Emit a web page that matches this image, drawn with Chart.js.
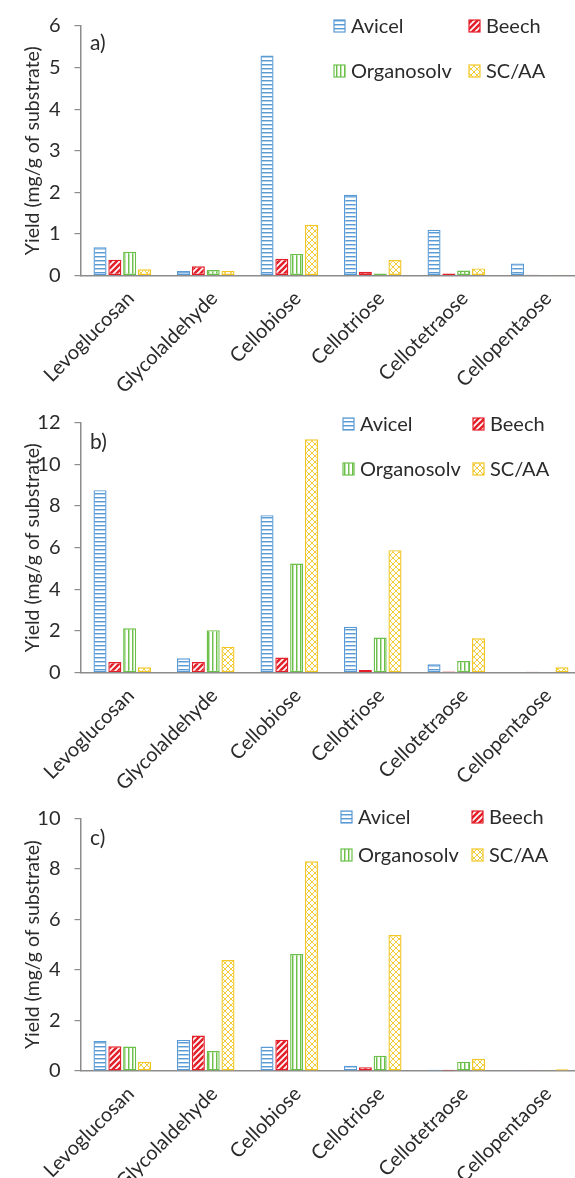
<!DOCTYPE html>
<html>
<head>
<meta charset="utf-8">
<script src="https://cdn.jsdelivr.net/npm/chart.js@4.4.0/dist/chart.umd.min.js"></script>
<style>
  html, body { margin: 0; padding: 0; background: #fff; overflow: hidden; width: 575px; height: 1178px; position: relative; }
  .panel { position: absolute; left: 0; }
</style>
</head>
<body>
<div class="panel" style="top:0px"><canvas id="chartA" width="592" height="420"></canvas></div>
<div class="panel" style="top:393px"><canvas id="chartB" width="592" height="420"></canvas></div>
<div class="panel" style="top:786px"><canvas id="chartC" width="592" height="392"></canvas></div>
<script>
const categories = ['Levoglucosan', 'Glycolaldehyde', 'Cellobiose', 'Cellotriose', 'Cellotetraose', 'Cellopentaose'];
const seriesNames = ['Avicel', 'Beech', 'Organosolv', 'SC/AA'];

// a)
const avicelA     = [0.68, 0.11, 5.29, 1.94, 1.10, 0.29];
const beechA      = [0.38, 0.22, 0.40, 0.09, 0.05, 0.02];
const organosolvA = [0.57, 0.13, 0.52, 0.05, 0.12, 0.01];
const scaaA       = [0.15, 0.11, 1.22, 0.37, 0.17, 0.02];
// b)
const avicelB     = [8.76, 0.69, 7.56, 2.20, 0.40, 0.03];
const beechB      = [0.51, 0.51, 0.73, 0.13, 0.06, 0.05];
const organosolvB = [2.13, 2.04, 5.24, 1.69, 0.56, 0.02];
const scaaB       = [0.26, 1.25, 11.2, 5.88, 1.65, 0.26];
// c)
const avicelC     = [1.19, 1.23, 0.97, 0.21, 0.05, 0.03];
const beechC      = [0.98, 1.40, 1.24, 0.15, 0.05, 0.03];
const organosolvC = [0.97, 0.79, 4.63, 0.60, 0.37, 0.03];
const scaaC       = [0.37, 4.39, 8.30, 5.38, 0.48, 0.07];

const yMaxes = [6, 12, 10];
const ySteps = [1, 2, 2];
const panelTags = ['a)', 'b)', 'c)'];
const yTitle = 'Yield (mg/g of substrate)';

const FONT = 'Lato';
const TEXT = '#2b2b2b';
const AXIS = '#8c8c8c';
const colors = ['#5b9bd5', '#e3202a', '#6cc04a', '#f2c624'];

// fill patterns for the four substrates
function makePattern(kind, color) {
    const c = document.createElement('canvas');
    const ctx = c.getContext('2d');
    if (kind === 'h') {
        c.width = 4; c.height = 4;
        ctx.fillStyle = '#fff'; ctx.fillRect(0, 0, 4, 4);
        ctx.fillStyle = color; ctx.fillRect(0, 0, 4, 1);
        ctx.globalAlpha = 0.45; ctx.fillRect(0, 1, 4, 1);
    } else if (kind === 'v') {
        c.width = 4; c.height = 4;
        ctx.fillStyle = '#fff'; ctx.fillRect(0, 0, 4, 4);
        ctx.fillStyle = color; ctx.fillRect(0, 0, 1, 4);
        ctx.globalAlpha = 0.45; ctx.fillRect(1, 0, 1, 4);
    } else if (kind === 'd') {
        c.width = 6; c.height = 6;
        ctx.fillStyle = '#fff'; ctx.fillRect(0, 0, 6, 6);
        ctx.strokeStyle = color; ctx.lineWidth = 2.6;
        ctx.beginPath();
        ctx.moveTo(-1, 7); ctx.lineTo(7, -1);
        ctx.moveTo(-1, 1); ctx.lineTo(1, -1);
        ctx.moveTo(5, 7); ctx.lineTo(7, 5);
        ctx.stroke();
    } else {
        c.width = 6; c.height = 6;
        ctx.fillStyle = '#fff'; ctx.fillRect(0, 0, 6, 6);
        ctx.strokeStyle = color; ctx.lineWidth = 0.9;
        ctx.beginPath();
        ctx.moveTo(0, 0); ctx.lineTo(6, 6);
        ctx.moveTo(6, 0); ctx.lineTo(0, 6);
        ctx.stroke();
    }
    return c.getContext('2d').createPattern(c, 'repeat');
}
const patterns = [
    makePattern('h', colors[0]),
    makePattern('d', colors[1]),
    makePattern('v', colors[2]),
    makePattern('x', colors[3])
];

function legendPlugin(lay) {
    return {
        id: 'patLegend',
        afterDraw(chart) {
            const ctx = chart.ctx;
            ctx.save();
            ctx.font = '20px ' + FONT;
            ctx.textBaseline = 'middle';
            seriesNames.forEach((name, i) => {
                const x = lay.cols[i % 2];
                const y = lay.rows[Math.floor(i / 2)];
                ctx.fillStyle = patterns[i];
                ctx.fillRect(x, y - 6, 11, 12);
                ctx.strokeStyle = colors[i];
                ctx.lineWidth = 1.2;
                ctx.strokeRect(x, y - 6, 11, 12);
                ctx.fillStyle = TEXT;
                ctx.fillText(name, x + 17, y + 1);
            });
            ctx.restore();
        }
    };
}

function tagPlugin(text, y) {
    return {
        id: 'panelTag',
        afterDraw(chart) {
            const ctx = chart.ctx;
            ctx.save();
            ctx.font = '21px ' + FONT;
            ctx.fillStyle = TEXT;
            ctx.textBaseline = 'middle';
            ctx.fillText(text, 90, y);
            ctx.restore();
        }
    };
}

function makeChart(id, series, idx, lay) {
    const canvas = document.getElementById(id);
    const H = canvas.height;
    return new Chart(canvas, {
        type: 'bar',
        data: {
            labels: categories,
            datasets: series.map((vals, i) => ({
                label: seriesNames[i],
                data: vals,
                backgroundColor: patterns[i],
                borderColor: colors[i],
                borderWidth: 1.4,
                borderSkipped: false,
                categoryPercentage: 0.71,
                barPercentage: 0.88
            }))
        },
        options: {
            responsive: false,
            animation: false,
            layout: { padding: { top: lay.top, right: 10.5, bottom: 0, left: 0 } },
            plugins: { legend: { display: false }, tooltip: { enabled: false } },
            scales: {
                x: {
                    grid: { display: true, drawOnChartArea: false, drawTicks: false },
                    border: { display: true, color: AXIS, width: 1.5 },
                    ticks: {
                        autoSkip: false, maxRotation: 45, minRotation: 45,
                        padding: 11, labelOffset: 8.5, color: TEXT, font: { family: FONT, size: 20 }
                    },
                    afterFit: s => { s.height = H - lay.bottom; }
                },
                y: {
                    min: 0, max: yMaxes[idx],
                    ticks: { stepSize: ySteps[idx], padding: 14, color: TEXT, font: { family: FONT, size: 20 } },
                    grid: { drawOnChartArea: false, drawTicks: true, tickLength: 6, color: AXIS, lineWidth: 1.2 },
                    border: { display: true, color: AXIS, width: 1.5 },
                    title: {
                        display: true, text: yTitle, color: TEXT,
                        font: { family: FONT, size: 19.5 }, padding: { top: 21, bottom: 0 }
                    },
                    afterFit: s => { s.width = 80.5; }
                }
            }
        },
        plugins: [legendPlugin(lay.legend), tagPlugin(panelTags[idx], lay.tagY)]
    });
}

makeChart('chartA', [avicelA, beechA, organosolvA, scaaA], 0,
    { top: 24, bottom: 275.5, tagY: 43, legend: { cols: [334, 469], rows: [26, 71] } });
makeChart('chartB', [avicelB, beechB, organosolvB, scaaB], 1,
    { top: 29.7, bottom: 279.7, tagY: 49, legend: { cols: [343, 473], rows: [31, 76] } });
makeChart('chartC', [avicelC, beechC, organosolvC, scaaC], 2,
    { top: 32.3, bottom: 285, tagY: 52, legend: { cols: [341, 472], rows: [31, 69] } });
</script>
</body>
</html>
